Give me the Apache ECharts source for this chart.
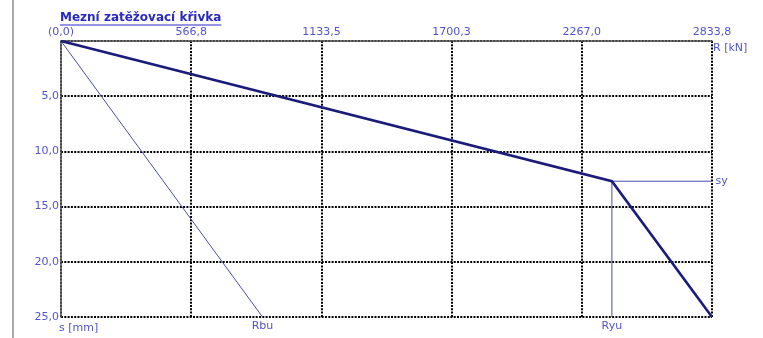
<!DOCTYPE html>
<html>
<head>
<meta charset="utf-8">
<script src="https://cdn.jsdelivr.net/npm/echarts@6/dist/echarts.min.js"></script>
<style>
  html, body { margin: 0; padding: 0; background: #fff; }
  #chart { width: 763px; height: 338px; }
</style>
</head>
<body>
<div id="chart"></div>
<script>
// Load–settlement limit curve (R in kN along the top, settlement s in mm downward)
const titleText = 'Mezní zatěžovací křivka';
const xTickLabels = ['(0,0)', '566,8', '1133,5', '1700,3', '2267,0', '2833,8'];
const yTickLabels = ['', '5,0', '10,0', '15,0', '20,0', '25,0'];
const rMax = 2833.8;
const sMax = 25;

// Total resistance curve: origin -> yield point (Ryu, sy) -> ultimate
const curveR = [0, 2398, 2833.8];
const curveS = [0, 12.7, 25];

// Base resistance line
const baseR = [0, 877];
const baseS = [0, 25];

// Reference lines from the yield point
const yieldR = 2398;
const yieldS = 12.7;

const labelColor = '#5252d4';
const font = 'DejaVu Sans';
const fs = 11;

const zip = (xs, ys) => xs.map((x, i) => [x, ys[i]]);

const chart = echarts.init(document.getElementById('chart'), null, { renderer: 'canvas' });

// width of the title, for the underline
const ctx = document.createElement('canvas').getContext('2d');
ctx.font = 'bold 12px "' + font + '"';
const titleW = ctx.measureText(titleText).width;

const thin = { color: '#4c4cb0', width: 1 };
const endLabel = (text, position) => ({
  show: true, formatter: text, position, distance: 3,
  color: labelColor, fontFamily: font, fontSize: fs
});

chart.setOption({
  animation: false,
  grid: { left: 61, right: 51, top: 41, bottom: 21 },
  graphic: [
    { type: 'rect', left: 12, top: 0, shape: { width: 2, height: 338 }, style: { fill: '#a9a9a9' }, silent: true },
    { type: 'text', left: 60, top: 12, style: { text: titleText, font: 'bold 12px "' + font + '"', fill: '#2828c4' } },
    { type: 'line', shape: { x1: 60, y1: 25, x2: 60 + titleW, y2: 25 }, style: { stroke: '#2828c4', lineWidth: 1 } }
  ],
  xAxis: {
    type: 'value',
    position: 'top',
    min: 0,
    max: rMax,
    interval: rMax / 5,
    name: 'R [kN]',
    nameLocation: 'end',
    nameGap: 1,
    nameTextStyle: { color: labelColor, fontFamily: font, fontSize: fs, align: 'left', verticalAlign: 'top', padding: [2, 0, 0, 0] },
    axisLine: { show: true, onZero: false, lineStyle: { color: '#5a5a5a', width: 1.5 } },
    axisTick: { show: false },
    axisLabel: {
      color: labelColor, fontFamily: font, fontSize: fs, margin: 3,
      showMinLabel: true, showMaxLabel: true,
      formatter: (v, i) => xTickLabels[i]
    },
    splitLine: { show: true, lineStyle: { color: '#000', width: 2, type: [2, 1.3] } }
  },
  yAxis: {
    type: 'value',
    inverse: true,
    min: 0,
    max: sMax,
    interval: 5,
    name: 's [mm]',
    nameLocation: 'end',
    nameGap: 1,
    nameTextStyle: { color: labelColor, fontFamily: font, fontSize: fs, align: 'left', verticalAlign: 'top', padding: [1, 0, 0, -2] },
    axisLine: { show: true, onZero: false, lineStyle: { color: '#5a5a5a', width: 1.5 } },
    axisTick: { show: false },
    axisLabel: {
      color: labelColor, fontFamily: font, fontSize: fs, margin: 2,
      formatter: (v, i) => yTickLabels[i]
    },
    splitLine: { show: true, lineStyle: { color: '#000', width: 2, type: [2, 1.3] } }
  },
  series: [
    {
      type: 'line', symbol: 'circle', symbolSize: 1, z: 3, clip: false,
      data: zip(baseR, baseS).map((p, i) => i === baseR.length - 1
        ? { value: p, label: endLabel('Rbu', 'bottom') }
        : p),
      lineStyle: thin, itemStyle: { color: 'rgba(0,0,0,0)', borderWidth: 0 }
    },
    {
      type: 'line', symbol: 'circle', symbolSize: 1, z: 3, clip: false,
      data: [[yieldR, yieldS], { value: [rMax, yieldS], label: endLabel('sy', 'right') }],
      lineStyle: thin, itemStyle: { color: 'rgba(0,0,0,0)', borderWidth: 0 }
    },
    {
      type: 'line', symbol: 'circle', symbolSize: 1, z: 3, clip: false,
      data: [[yieldR, yieldS], { value: [yieldR, sMax], label: endLabel('Ryu', 'bottom') }],
      lineStyle: thin, itemStyle: { color: 'rgba(0,0,0,0)', borderWidth: 0 }
    },
    {
      type: 'line', symbol: 'none', z: 4,
      data: zip(curveR, curveS),
      lineStyle: { color: '#1b1b7e', width: 2.6, join: 'miter' }
    }
  ]
});
</script>
</body>
</html>
